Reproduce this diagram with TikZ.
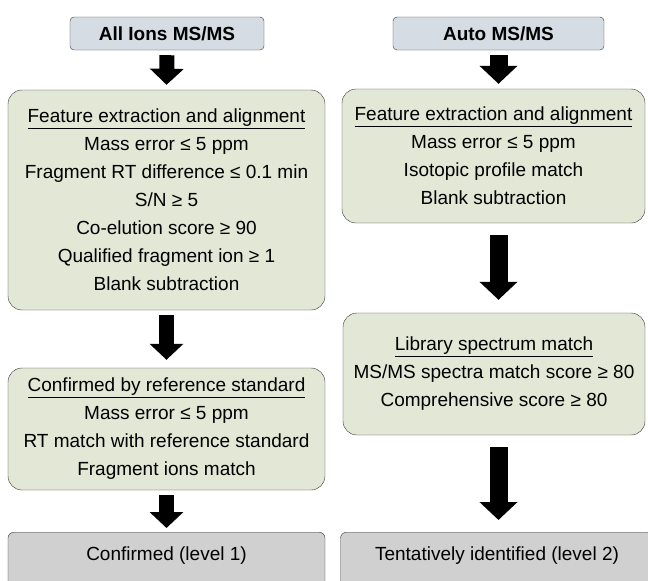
\documentclass[tikz,border=0pt]{standalone}
\usepackage{fontspec}
\setmainfont{Liberation Sans}
\usetikzlibrary{arrows.meta}

\definecolor{hdrblue}{RGB}{214,220,228}
\definecolor{critgreen}{RGB}{226,231,214}
\definecolor{resgray}{RGB}{208,208,208}
\definecolor{edgegray}{RGB}{55,55,55}

\begin{document}
\begin{tikzpicture}[x=1pt,y=-1pt,
  font=\fontsize{19}{28}\selectfont,
  hdr/.style={draw=edgegray,fill=hdrblue,rounded corners=4pt,minimum height=33pt,inner sep=0pt,font=\fontsize{19}{28}\selectfont\bfseries},
  crit/.style={draw=edgegray,fill=critgreen,rounded corners=14pt,align=center,inner sep=0pt},
  result/.style={draw=edgegray,fill=resgray,rounded corners=6pt,inner sep=0pt,anchor=north,text height=28pt,text depth=40pt},
  fat/.style={line width=15pt,-{Triangle[width=33pt,length=16pt]},shorten <=5pt,shorten >=5pt},
  fatR/.style={fat,line width=18pt,-{Triangle[width=37pt,length=18pt]}}]
\useasboundingbox (0,0) rectangle (648,581);
\clip (0,0) rectangle (648,581);

% left column: All Ions
\node[hdr,minimum width=194pt] (hdrL) at (167,33.5) {All Ions MS/MS};
\node[crit,minimum width=317pt,minimum height=220pt] (featL) at (166.5,200)
  {\underline{Feature extraction and alignment}\\
   Mass error ≤ 5 ppm\\
   Fragment RT difference ≤ 0.1 min\\
   S/N ≥ 5\\
   Co-elution score ≥ 90\\
   Qualified fragment ion ≥ 1\\
   Blank subtraction};
\node[crit,minimum width=317pt,minimum height=122pt] (refL) at (166.5,429)
  {\underline{Confirmed by reference standard}\\
   Mass error ≤ 5 ppm\\
   RT match with reference standard\\
   Fragment ions match};
\node[result,minimum width=317pt] (confL) at (166.5,532) {Confirmed (level 1)};

% right column: Auto
\node[hdr,minimum width=211pt] (hdrR) at (498.5,33.5) {Auto MS/MS};
\node[crit,minimum width=303pt,minimum height=134pt] (featR) at (493.5,156)
  {\underline{Feature extraction and alignment}\\
   Mass error ≤ 5 ppm\\
   Isotopic profile match\\
   Blank subtraction};
\node[crit,minimum width=302pt,minimum height=122pt] (libR) at (494,374)
  {\underline{Library spectrum match}\\
   MS/MS spectra match score ≥ 80\\
   Comprehensive score ≥ 80};
\node[result,minimum width=313pt] (tentR) at (497,532) {Tentatively identified (level 2)};

\draw[fat] (hdrL.south) -- (featL.north);
\draw[fat,shorten >=8pt] (featL.south) -- (refL.north);
\draw[fat,shorten >=4pt] (refL.south) -- (confL.north);
\draw[fatR] (hdrR.south) -- (hdrR.south |- featR.north);
\draw[fatR,shorten <=12pt,shorten >=13pt] (hdrR.south |- featR.south) -- (hdrR.south |- libR.north);
\draw[fatR,shorten <=12pt,shorten >=12pt] (hdrR.south |- libR.south) -- (hdrR.south |- tentR.north);
\end{tikzpicture}
\end{document}
